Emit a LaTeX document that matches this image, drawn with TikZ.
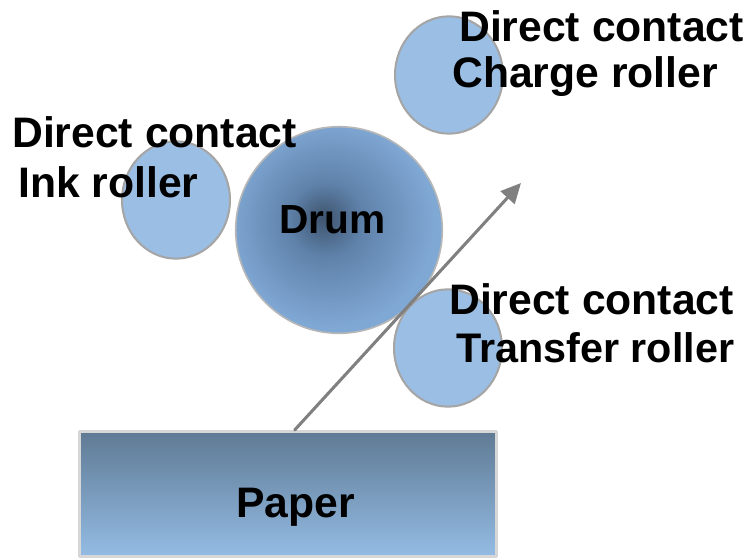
\documentclass[tikz,border=0pt]{standalone}
\usepackage{fontspec}
\setmainfont{Liberation Sans}
\usetikzlibrary{arrows.meta,shapes.geometric}
\definecolor{rollerblue}{RGB}{155,190,228}
\definecolor{rim}{RGB}{165,165,165}
\definecolor{drumdark}{RGB}{62,84,110}
\definecolor{drummid}{RGB}{95,130,170}
\definecolor{drumlight}{RGB}{128,168,212}
\definecolor{papertop}{RGB}{95,122,148}
\definecolor{paperbot}{RGB}{148,188,228}
\definecolor{paperrim}{RGB}{215,215,215}
\definecolor{arrowgray}{RGB}{128,128,128}
\pgfdeclareradialshading{drumglow}{\pgfpoint{-4bp}{3bp}}{color(0bp)=(drumdark); color(9bp)=(drummid); color(25bp)=(drumlight); color(50bp)=(drumlight)}
\begin{document}
\begin{tikzpicture}[x=0.75pt,y=-0.75pt,>={Triangle[length=15pt,width=14pt]}, line join=round, line cap=round,
  roller/.style={ellipse,draw=rim,line width=1.5pt,fill=rollerblue,inner sep=0pt,minimum width=81pt,minimum height=88pt},
  drum/.style={circle,draw=rim!80,line width=1.2pt,shading=drumglow,inner sep=0pt,minimum size=155pt},
  paper/.style={rectangle,draw=paperrim,line width=2pt,top color=papertop,bottom color=paperbot,inner sep=0pt,minimum width=313pt,minimum height=94pt},
  lbl/.style={anchor=base west,inner sep=0pt,font=\fontsize{32pt}{38pt}\selectfont\bfseries}]
	\useasboundingbox (0,0) rectangle (756,559);
	%\draw[help lines] (0,0) grid[step=50] (756,559);
	\node[roller] (ink) at (176,200) {};
	\node[roller] (charge) at (449,75) {};
	\node[roller] (transfer) at (448,348) {};
	\node[drum] (drum) at (339,230) {};
	\node[paper] (paper) at (288,494) {};
	\coordinate (tip) at (521,183);
	\draw[->,arrowgray,line width=2.3pt]([xshift=5pt]paper.north)--(tip);
	\node[lbl] (chargetop) at (459,42) {Direct contact};
	\node[lbl] (chargename) at (452,88) {Charge roller};
	\node[lbl] (inktop) at (12,148) {Direct contact};
	\node[lbl] (inkname) at (18,198) {Ink roller};
	\node[lbl,font=\fontsize{30.5pt}{36pt}\selectfont\bfseries] (drumname) at (279,234) {Drum};
	\node[lbl] (transfertop) at (449,315) {Direct contact};
	\node[lbl,font=\fontsize{31pt}{36pt}\selectfont\bfseries] (transfername) at (456,363) {Transfer roller};
	\node[lbl] (papername) at (236,517) {Paper};
\end{tikzpicture}
\end{document}
